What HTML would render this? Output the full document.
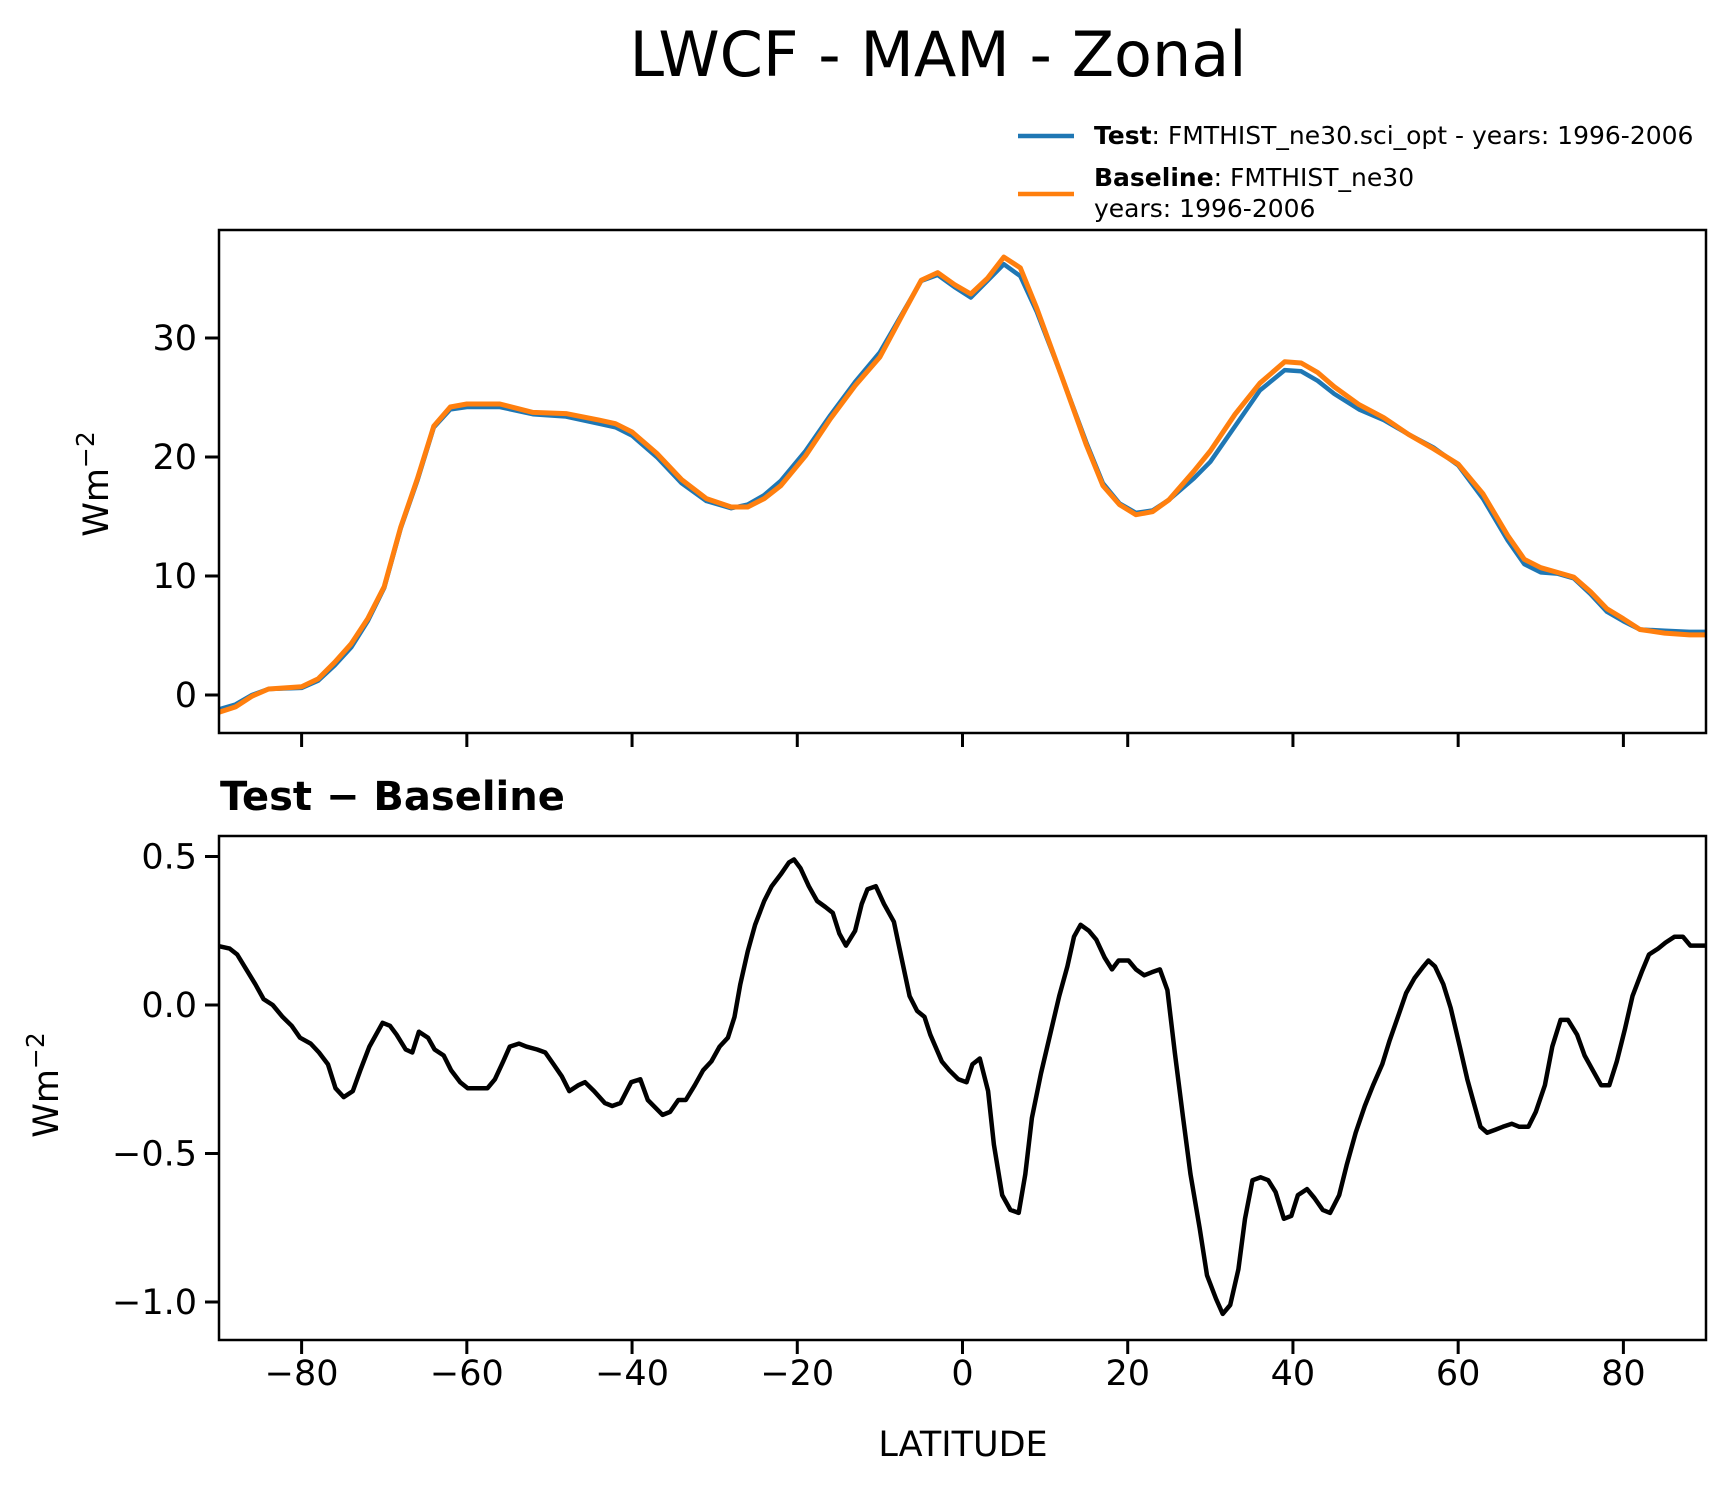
<!DOCTYPE html>
<html><head><meta charset="utf-8"><style>
html,body{margin:0;padding:0;background:#fff}
svg{display:block;font-family:"DejaVu Sans","Liberation Sans",sans-serif}
</style></head><body>
<svg id="fig" width="1736" height="1496" viewBox="0 0 1736 1496">
<text x="938" y="76" font-size="62" text-anchor="middle">LWCF - MAM - Zonal</text>
<g>
  <line x1="1018" y1="136" x2="1074" y2="136" stroke="#1f77b4" stroke-width="4.5"/>
  <text x="1094" y="144" font-size="25"><tspan font-weight="bold">Test</tspan>: FMTHIST_ne30.sci_opt - years: 1996-2006</text>
  <line x1="1018" y1="194" x2="1074" y2="194" stroke="#ff7f0e" stroke-width="4.5"/>
  <text x="1094" y="186" font-size="25"><tspan font-weight="bold">Baseline</tspan>: FMTHIST_ne30</text>
  <text x="1094" y="217" font-size="25">years: 1996-2006</text>
</g>
<g id="top"></g>
<g id="bot"></g>
<text x="220" y="810" font-size="40" font-weight="bold">Test − Baseline</text>
<text transform="translate(108,484) rotate(-90)" font-size="35" text-anchor="middle">Wm<tspan dy="-14" font-size="25">−2</tspan></text>
<text transform="translate(58,1085) rotate(-90)" font-size="35" text-anchor="middle">Wm<tspan dy="-14" font-size="25">−2</tspan></text>
<text x="963" y="1456" font-size="35" text-anchor="middle">LATITUDE</text>
</svg>
<script>
const topLats=[-90,-88,-86,-84,-80,-78,-76,-74,-72,-70,-68,-66,-64,-62,-60,-56,-52,-48,-44,-42,-40,-37,-34,-31,-28,-26,-24,-22,-19,-16,-13,-10,-7,-5,-3,-1,1,3,5,7,9,12,15,17,19,21,23,25,28,30,33,36,39,41,43,45,48,51,54,57,60,63,66,68,70,72,74,76,78,80,82,85,88,90];
const testVals=[-1.2,-0.8,0.0,0.5,0.6,1.2,2.5,4.0,6.2,9.0,14.0,18.0,22.5,24.0,24.2,24.2,23.6,23.4,22.8,22.5,21.8,20.0,17.8,16.3,15.7,16.0,16.8,18.0,20.5,23.5,26.3,28.8,32.4,34.8,35.3,34.3,33.4,34.8,36.2,35.2,32.2,26.8,21.2,17.8,16.1,15.3,15.5,16.4,18.2,19.6,22.6,25.6,27.3,27.2,26.4,25.3,24.0,23.1,21.9,20.8,19.3,16.5,13.0,11.0,10.3,10.2,9.8,8.5,7.0,6.2,5.5,5.4,5.3,5.3];
const baseVals=[-1.45,-1.0,-0.1,0.5,0.7,1.35,2.75,4.3,6.4,9.1,14.1,18.15,22.6,24.2,24.45,24.45,23.75,23.65,23.1,22.8,22.1,20.3,18.1,16.5,15.8,15.8,16.5,17.6,20.1,23.2,26.0,28.4,32.3,34.85,35.5,34.5,33.7,35.0,36.8,35.9,32.5,26.8,21.0,17.6,16.0,15.15,15.4,16.4,18.8,20.5,23.6,26.2,28.0,27.9,27.1,25.9,24.4,23.3,21.9,20.7,19.4,16.9,13.4,11.4,10.7,10.3,9.9,8.7,7.25,6.4,5.5,5.2,5.05,5.05];
const diffLats=[-90.0,-88.7,-87.8,-86.7,-85.6,-84.6,-83.5,-82.3,-81.2,-80.2,-78.9,-77.9,-76.8,-75.9,-74.9,-73.8,-72.9,-71.8,-70.2,-69.3,-68.5,-67.4,-66.6,-65.8,-64.7,-63.9,-62.8,-61.9,-60.8,-59.9,-58.8,-57.5,-56.6,-55.6,-54.8,-53.7,-52.8,-51.5,-50.5,-49.5,-48.5,-47.6,-46.5,-45.7,-44.6,-43.3,-42.4,-41.4,-40.1,-39.0,-38.1,-36.3,-35.4,-34.4,-33.5,-32.4,-31.4,-30.4,-29.4,-28.4,-27.6,-26.9,-26.0,-25.1,-24.0,-23.1,-22.0,-21.0,-20.4,-19.6,-18.6,-17.6,-16.6,-15.7,-14.9,-14.1,-13.0,-12.2,-11.5,-10.5,-9.5,-8.3,-7.4,-6.4,-5.5,-4.6,-3.9,-2.5,-1.6,-0.5,0.5,1.2,2.1,3.1,3.8,4.8,5.8,6.8,7.6,8.4,9.5,10.6,11.7,12.7,13.5,14.3,15.3,16.2,17.2,18.1,18.9,20.1,21.0,22.0,22.9,23.9,24.8,25.7,26.7,27.6,28.7,29.6,30.7,31.5,32.4,33.4,34.2,35.1,36.1,37.0,37.9,38.9,39.8,40.6,41.7,42.6,43.6,44.5,45.6,46.5,47.6,48.7,49.7,50.8,51.7,52.7,53.7,54.7,55.8,56.4,57.2,58.2,59.1,60.2,61.1,61.8,62.7,63.5,64.5,65.4,66.5,67.4,68.5,69.4,70.5,71.4,72.4,73.3,74.4,75.3,76.3,77.3,78.3,79.2,80.2,81.1,82.2,83.1,84.2,85.1,86.2,87.2,88.1,89.0,90.0];
const diffVals=[0.198,0.19,0.17,0.12,0.07,0.02,0.0,-0.04,-0.07,-0.11,-0.13,-0.16,-0.20,-0.28,-0.31,-0.29,-0.22,-0.14,-0.06,-0.07,-0.10,-0.15,-0.16,-0.09,-0.11,-0.15,-0.17,-0.22,-0.26,-0.28,-0.28,-0.28,-0.25,-0.19,-0.14,-0.13,-0.14,-0.15,-0.16,-0.20,-0.24,-0.29,-0.27,-0.26,-0.29,-0.33,-0.34,-0.33,-0.26,-0.25,-0.32,-0.37,-0.36,-0.32,-0.32,-0.27,-0.22,-0.19,-0.14,-0.11,-0.04,0.07,0.18,0.27,0.35,0.40,0.44,0.48,0.49,0.46,0.40,0.35,0.33,0.31,0.24,0.20,0.25,0.34,0.39,0.40,0.34,0.28,0.16,0.03,-0.02,-0.04,-0.10,-0.19,-0.22,-0.25,-0.26,-0.20,-0.18,-0.29,-0.47,-0.64,-0.69,-0.70,-0.57,-0.38,-0.23,-0.10,0.03,0.13,0.23,0.27,0.25,0.22,0.16,0.12,0.15,0.15,0.12,0.10,0.11,0.12,0.05,-0.16,-0.38,-0.57,-0.75,-0.91,-0.99,-1.04,-1.01,-0.89,-0.72,-0.59,-0.58,-0.59,-0.63,-0.72,-0.71,-0.64,-0.62,-0.65,-0.69,-0.70,-0.64,-0.54,-0.43,-0.34,-0.27,-0.20,-0.12,-0.04,0.04,0.09,0.13,0.15,0.13,0.07,-0.01,-0.14,-0.25,-0.32,-0.41,-0.43,-0.42,-0.41,-0.40,-0.41,-0.41,-0.36,-0.27,-0.14,-0.05,-0.05,-0.10,-0.17,-0.22,-0.27,-0.27,-0.19,-0.08,0.03,0.11,0.17,0.19,0.21,0.23,0.23,0.20,0.20,0.20];
const xTicks=[-80,-60,-40,-20,0,20,40,60,80];
const xTickLabels=["−80","−60","−40","−20","0","20","40","60","80"];
const topTicks=[0,10,20,30];
const topTickLabels=["0","10","20","30"];
const botTicks=[0.5,0.0,-0.5,-1.0];
const botTickLabels=["0.5","0.0","−0.5","−1.0"];

const NS="http://www.w3.org/2000/svg";
const L=219,R=1706;
const TT=230,TB=733,BT=836,BB=1340;
const xs=v=>L+(v+90)*(R-L)/180;
const yTop=v=>695-v*11.9;
const yBot=v=>1005-v*297;
function mk(tag,attrs,parent){const e=document.createElementNS(NS,tag);for(const k in attrs)e.setAttribute(k,attrs[k]);parent.appendChild(e);return e;}
function path(lats,vals,ys){return lats.map((la,i)=>(i?'L':'M')+xs(la).toFixed(1)+','+ys(vals[i]).toFixed(1)).join(' ');}
function panel(g,top,bot,ys,ticks,labels,showX,name){
  const cp=mk('clipPath',{id:'cp'+name},g);
  mk('rect',{x:L,y:top,width:R-L,height:bot-top},cp);
  ticks.forEach((t,i)=>{
    const y=ys(t);
    const tl=mk('line',{x1:L-14,x2:L,y1:y,y2:y,stroke:'#000','stroke-width':3},g);
    
    
    const tx=mk('text',{x:L-22,y:y+12,'font-size':35,'text-anchor':'end'},g);
    tx.textContent=labels[i];
    
    
  });
  xTicks.forEach((t,i)=>{
    const x=xs(t);
    const tl=mk('line',{x1:x,x2:x,y1:bot,y2:bot+14,stroke:'#000','stroke-width':3},g);
    
    
    if(showX){
      const tx=mk('text',{x:x,y:bot+45,'font-size':35,'text-anchor':'middle'},g);
      tx.textContent=xTickLabels[i];
      
      
    }
  });
  return 'url(#cp'+name+')';
}
const gt=document.getElementById('top');
const c1=panel(gt,TT,TB,yTop,topTicks,topTickLabels,false,'top');
const pt=mk('path',{d:path(topLats,testVals,yTop),fill:'none',stroke:'#1f77b4','stroke-width':4.5,'stroke-linejoin':'round','clip-path':c1},gt);


const pb=mk('path',{d:path(topLats,baseVals,yTop),fill:'none',stroke:'#ff7f0e','stroke-width':5,'stroke-linejoin':'round','clip-path':c1},gt);


const f1=mk('rect',{x:L,y:TT,width:R-L,height:TB-TT,fill:'none',stroke:'#000','stroke-width':2.5},gt);



const gb=document.getElementById('bot');
const c2=panel(gb,BT,BB,yBot,botTicks,botTickLabels,true,'bottom');
const pd=mk('path',{d:path(diffLats,diffVals,yBot),fill:'none',stroke:'#000','stroke-width':4.5,'stroke-linejoin':'round','clip-path':c2},gb);


const f2=mk('rect',{x:L,y:BT,width:R-L,height:BB-BT,fill:'none',stroke:'#000','stroke-width':2.5},gb);


</script>
</body></html>
